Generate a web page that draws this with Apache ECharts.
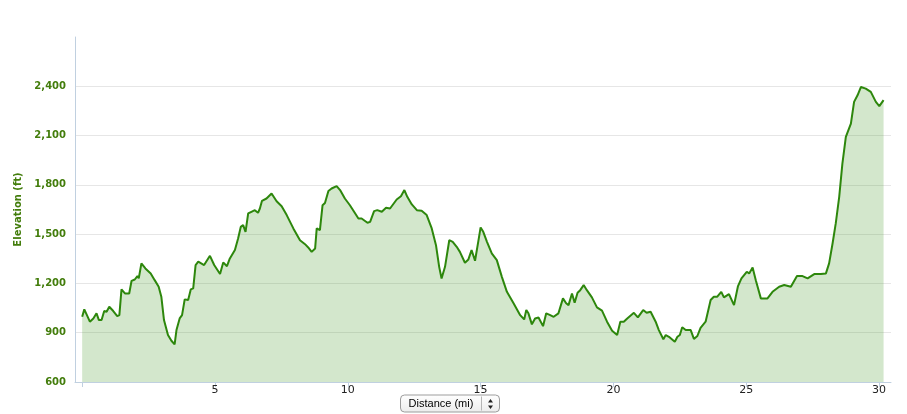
<!DOCTYPE html>
<html>
<head>
<meta charset="utf-8">
<script src="https://cdn.jsdelivr.net/npm/echarts@6/dist/echarts.min.js"></script>
<style>
html,body{margin:0;padding:0;background:#fff;}
#chart{width:907px;height:414px;}
</style>
</head>
<body>
<div id="chart"></div>
<script>
// Distance along route (mi)
var distances = [0.00,0.08,0.29,0.42,0.54,0.63,0.73,0.83,0.92,1.02,1.17,1.32,1.40,1.48,1.61,1.77,1.86,1.98,2.08,2.13,2.23,2.38,2.58,2.73,2.88,2.98,3.08,3.23,3.36,3.48,3.55,3.67,3.76,3.86,3.99,4.09,4.18,4.27,4.37,4.59,4.81,4.97,5.19,5.31,5.45,5.56,5.75,5.87,5.97,6.06,6.15,6.25,6.37,6.50,6.62,6.69,6.77,6.94,7.13,7.32,7.51,7.70,7.95,8.20,8.39,8.51,8.64,8.77,8.83,8.95,9.05,9.14,9.27,9.39,9.58,9.71,9.89,10.08,10.40,10.52,10.74,10.84,10.99,11.11,11.28,11.44,11.59,11.84,12.00,12.13,12.24,12.41,12.60,12.78,12.97,13.16,13.32,13.44,13.53,13.66,13.82,13.95,14.10,14.22,14.41,14.54,14.66,14.79,14.91,15.00,15.10,15.24,15.42,15.61,15.80,15.99,16.24,16.49,16.64,16.72,16.80,16.93,17.05,17.18,17.35,17.47,17.62,17.75,17.93,18.10,18.22,18.31,18.44,18.54,18.65,18.75,18.88,19.00,19.19,19.38,19.57,19.76,19.95,20.01,20.14,20.26,20.39,20.52,20.77,20.92,21.12,21.25,21.40,21.59,21.71,21.88,21.97,22.09,22.31,22.41,22.50,22.59,22.72,22.91,23.03,23.16,23.28,23.47,23.66,23.78,23.91,24.06,24.16,24.35,24.54,24.69,24.82,25.02,25.11,25.24,25.36,25.55,25.80,25.99,26.24,26.43,26.68,26.91,27.12,27.31,27.56,27.81,28.00,28.12,28.25,28.37,28.50,28.62,28.75,28.94,29.06,29.19,29.32,29.50,29.69,29.88,30.01,30.17];
// Elevation (ft)
var elevations = [997,1042,967,987,1018,977,977,1032,1028,1058,1032,1001,1007,1164,1139,1139,1216,1224,1245,1231,1322,1291,1261,1220,1180,1119,977,886,851,829,916,987,1007,1103,1099,1164,1170,1312,1332,1312,1368,1312,1257,1328,1305,1352,1403,1474,1544,1555,1514,1626,1636,1646,1630,1656,1703,1717,1747,1700,1670,1616,1535,1463,1439,1419,1392,1413,1535,1524,1676,1690,1763,1778,1792,1768,1717,1676,1595,1595,1569,1575,1640,1646,1636,1660,1656,1711,1731,1768,1727,1681,1646,1642,1616,1535,1433,1301,1230,1301,1463,1453,1423,1392,1326,1346,1403,1338,1453,1541,1514,1453,1383,1342,1240,1149,1079,1007,981,1038,1018,951,987,993,940,1018,1007,997,1018,1109,1079,1068,1139,1082,1143,1159,1190,1159,1115,1054,1034,967,912,916,886,967,967,987,1021,993,1038,1021,1028,967,916,860,886,875,845,875,886,933,916,916,862,880,930,967,1099,1119,1119,1149,1115,1135,1068,1184,1231,1271,1261,1297,1220,1109,1109,1149,1180,1190,1180,1245,1245,1231,1257,1257,1261,1322,1443,1565,1727,1929,2092,2173,2305,2345,2396,2386,2366,2305,2279,2316];
var xTickValues = [0,5,10,15,20,25,30];
var xLabelValues = [5,10,15,20,25,30];
var yTickValues = [600,900,1200,1500,1800,2100,2400];

var FONT = 'DejaVu Sans';
var GREEN_TXT = '#437d0c';
var seriesData = distances.map(function(d, i){ return [d, elevations[i]]; });

var chart = echarts.init(document.getElementById('chart'), null, {renderer:'canvas'});
chart.setOption({
  animation: false,
  backgroundColor: '#ffffff',
  grid: {left: 75, right: 16, top: 37, bottom: 32, containLabel: false},
  xAxis: {
    type: 'value',
    min: -0.27,
    max: 30.45,
    axisLine: {show: true, onZero: false, lineStyle: {color: '#C0D0E0', width: 1}},
    axisTick: {show: true, customValues: xTickValues, length: 5, lineStyle: {color: '#C0D0E0'}},
    axisLabel: {customValues: xLabelValues, margin: 3, color: '#222222', fontSize: 11, fontFamily: FONT},
    splitLine: {show: false}
  },
  yAxis: {
    type: 'value',
    min: 600,
    max: 2700,
    interval: 300,
    name: 'Elevation (ft)',
    nameLocation: 'middle',
    nameGap: 48,
    nameTextStyle: {color: GREEN_TXT, fontWeight: 'bold', fontSize: 10, fontFamily: FONT},
    axisLine: {show: true, onZero: false, lineStyle: {color: '#C0D0E0', width: 1}},
    axisTick: {show: false},
    axisLabel: {
      margin: 9, color: GREEN_TXT, fontWeight: 'bold', fontSize: 10, fontFamily: FONT,
      formatter: function(v){ return yTickValues.indexOf(v) >= 0 ? v.toLocaleString('en-US') : ''; }
    },
    splitLine: {show: true, showMaxLine: false, lineStyle: {color: '#e6e6e6', width: 1}}
  },
  series: [{
    type: 'line',
    data: seriesData,
    symbol: 'none',
    smooth: false,
    lineStyle: {color: '#2d870c', width: 2},
    areaStyle: {color: 'rgba(78,160,50,0.25)', opacity: 1, origin: 'start'},
    silent: true
  }],
  graphic: [{
    type: 'group',
    left: 400,
    top: 394,
    children: [
      {type: 'rect', shape: {x: 0.5, y: 0.5, width: 99, height: 17, r: 4},
       style: {fill: new echarts.graphic.LinearGradient(0,0,0,1,[{offset:0,color:'#ffffff'},{offset:1,color:'#ececec'}]), stroke: '#9c9c9c', lineWidth: 1}},
      {type: 'text', x: 41, y: 9.5, style: {text: 'Distance (mi)', fill: '#000', font: '11px "Liberation Sans", Arial, sans-serif', align: 'center', verticalAlign: 'middle'}},
      {type: 'line', shape: {x1: 81.5, y1: 2, x2: 81.5, y2: 16}, style: {stroke: '#b5b5b5', lineWidth: 1}},
      {type: 'polygon', shape: {points: [[88,8],[93,8],[90.5,4.5]]}, style: {fill: '#222'}},
      {type: 'polygon', shape: {points: [[88,11],[93,11],[90.5,14.5]]}, style: {fill: '#222'}}
    ]
  }]
});
</script>
</body>
</html>
